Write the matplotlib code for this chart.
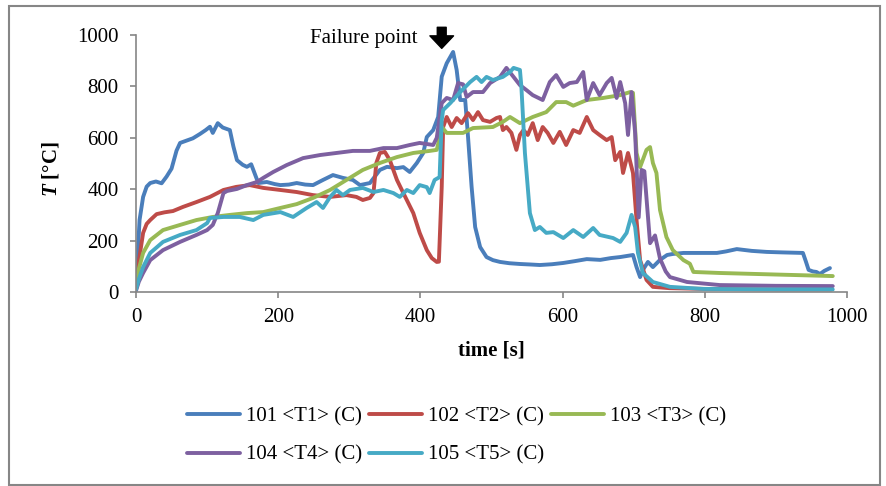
import matplotlib
matplotlib.use("Agg")
import matplotlib.pyplot as plt
from matplotlib.patches import Rectangle

plt.rcParams['font.family'] = ['Liberation Serif', 'DejaVu Serif']
plt.rcParams['mathtext.fontset'] = 'custom'
plt.rcParams['mathtext.it'] = 'Liberation Serif:italic:bold'
plt.rcParams['mathtext.rm'] = 'Liberation Serif:bold'

# thermocouple readings, time [s] / temperature [C]
t1 = [0, 5, 10, 15, 20, 28, 36, 43, 50, 57, 62, 70, 80, 90, 98, 104, 108, 115, 122, 132,
      137, 142, 150, 156, 162, 172, 184, 195, 203, 215, 226, 238, 249, 263, 277, 291, 305,
      315, 329, 343, 353, 367, 376, 385, 395, 404, 409, 418, 425, 430, 437, 446, 451, 456,
      463, 467, 472, 477, 484, 493, 502, 512, 525, 540, 555, 568, 585, 601, 617, 634, 653,
      668, 681, 699, 704, 709, 713, 720, 727, 737, 747, 755, 770, 793, 817, 830, 845, 866,
      887, 910, 938, 942, 946, 952, 957, 962, 968, 976]
T1 = [20, 280, 370, 410, 424, 430, 423, 449, 480, 550, 580, 588, 598, 615, 630, 643, 619, 657,
      640, 630, 566, 513, 495, 487, 497, 424, 428, 420, 416, 418, 424, 418, 416, 436, 455, 444,
      436, 416, 424, 475, 487, 482, 486, 467, 502, 541, 603, 630, 681, 838, 890, 934, 864, 747,
      747, 603, 410, 253, 175, 136, 124, 117, 112, 109, 107, 105, 108, 113, 120, 128, 125,
      132, 136, 144, 97, 58, 86, 117, 97, 125, 144, 148, 152, 152, 152, 158, 167, 160,
      156, 154, 152, 120, 86, 80, 78, 70, 82, 93]

t2 = [0, 4, 10, 15, 20, 29, 40, 52, 66, 85, 104, 123, 141, 160, 179, 203, 226, 249, 273, 296,
      310, 319, 329, 334, 338, 343, 350, 357, 367, 376, 390, 399, 409, 416, 423, 426, 430,
      432, 437, 444, 451, 458, 467, 474, 481, 488, 498, 507, 512, 516, 521, 528, 535, 540,
      545, 551, 558, 565, 572, 579, 587, 596, 605, 615, 624, 634, 643, 652, 662, 669, 674,
      681, 685, 692, 699, 704, 709, 718, 727, 750, 800, 900, 978]
T2 = [20, 120, 230, 265, 280, 303, 310, 315, 331, 350, 370, 397, 409, 416, 405, 397, 389, 377,
      370, 377, 370, 358, 366, 385, 502, 541, 545, 513, 436, 385, 307, 230, 163, 132, 117, 118,
      409, 642, 681, 642, 677, 657, 696, 669, 700, 669, 662, 677, 681, 630, 642, 619, 553,
      611, 630, 611, 657, 591, 642, 619, 580, 623, 572, 630, 619, 681, 630, 611, 591, 603,
      513, 545, 463, 541, 463, 280, 124, 47, 20, 15, 12, 10, 10]

t3 = [0, 4, 10, 20, 38, 62, 85, 108, 132, 156, 179, 203, 226, 249, 273, 296, 319, 343, 367,
      390, 413, 423, 427, 430, 437, 460, 474, 502, 516, 526, 540, 558, 577, 591, 605, 615,
      634, 657, 681, 695, 699, 704, 709, 718, 723, 727, 732, 737, 746, 755, 770, 779, 784,
      821, 900, 980]
T3 = [20, 90, 152, 202, 241, 261, 280, 292, 300, 307, 311, 327, 342, 366, 397, 436, 475, 502,
      525, 541, 549, 553, 600, 642, 619, 619, 638, 642, 662, 681, 657, 681, 700, 739, 739,
      725, 747, 755, 766, 778, 775, 541, 486, 553, 564, 502, 463, 319, 214, 163, 124, 110,
      78, 74, 68, 62]

t4 = [0, 4, 10, 20, 38, 62, 85, 100, 108, 115, 123, 128, 142, 156, 170, 179, 193, 212, 235,
      259, 282, 305, 329, 348, 367, 385, 399, 418, 423, 430, 437, 446, 453, 460, 465, 474,
      488, 498, 512, 521, 531, 540, 549, 558, 572, 582, 591, 601, 610, 620, 629, 634, 643,
      652, 662, 669, 676, 681, 688, 692, 697, 702, 707, 711, 715, 723, 730, 737, 745, 751,
      775, 821, 900, 980]
T4 = [5, 40, 74, 124, 163, 195, 222, 241, 261, 307, 385, 393, 401, 416, 428, 444, 467, 494,
      521, 533, 541, 549, 549, 560, 560, 572, 580, 572, 600, 735, 755, 747, 813, 808, 759,
      778, 778, 813, 837, 872, 837, 805, 786, 766, 747, 817, 844, 798, 813, 817, 856, 747,
      813, 766, 813, 833, 755, 817, 735, 611, 778, 619, 290, 475, 470, 190, 220, 130, 80, 58,
      39, 27, 24, 23]

t5 = [0, 4, 10, 20, 38, 62, 85, 100, 104, 123, 146, 165, 179, 203, 221, 240, 254, 263, 273,
      282, 291, 301, 319, 334, 348, 362, 371, 381, 390, 399, 409, 413, 420, 427, 430, 432,
      442, 456, 470, 479, 486, 493, 502, 516, 526, 531, 540, 542, 547, 554, 561, 568, 577,
      587, 601, 615, 629, 643, 652, 671, 681, 690, 697, 702, 706, 713, 727, 751, 798, 900,
      980]
T5 = [10, 50, 97, 152, 195, 222, 241, 268, 288, 292, 292, 280, 300, 311, 292, 327, 350, 327,
      370, 397, 377, 397, 405, 389, 397, 385, 370, 397, 385, 416, 408, 385, 436, 447, 669,
      708, 735, 778, 817, 837, 817, 837, 825, 837, 856, 872, 864, 800, 541, 307, 241, 253,
      230, 233, 210, 241, 214, 249, 222, 210, 195, 230, 300, 253, 152, 74, 39, 20, 12, 10, 10]

labels = ['101 <T1> (C)', '102 <T2> (C)', '103 <T3> (C)', '104 <T4> (C)', '105 <T5> (C)']
colors = ['#4A7EBB', '#BE4B48', '#98B954', '#7D60A0', '#46AAC5']
series = [(t1, T1), (t2, T2), (t3, T3), (t4, T4), (t5, T5)]

fig = plt.figure(figsize=(8.86, 4.86), dpi=100)
ax = fig.add_axes([136 / 886, 1 - 292 / 486, 711 / 886, 257 / 486])

lines = []
for (x, y), lab, c in zip(series, labels, colors):
    ln, = ax.plot(x, y, color=c, lw=2.8, label=lab, solid_joinstyle='round', solid_capstyle='round')
    lines.append(ln)

ax.set_xlim(0, 1000)
ax.set_ylim(0, 1000)
ax.set_xticks(range(0, 1001, 200))
ax.set_yticks(range(0, 1001, 200))
grey = '#868686'
for s in ['top', 'right']:
    ax.spines[s].set_visible(False)
for s in ['left', 'bottom']:
    ax.spines[s].set_color(grey)
    ax.spines[s].set_linewidth(1.2)
ax.tick_params(length=4.5, width=1.2, color=grey, labelsize=15, pad=7)
ax.tick_params(axis='y', pad=8)

ax.set_xlabel('time [s]', fontsize=15, fontweight='bold')
ax.xaxis.set_label_coords(0.5, -0.19)
ax.set_ylabel(r'$T$ [°C]', fontsize=15, fontweight='bold')
ax.yaxis.set_label_coords(-0.105, 0.48)

# failure marker above the plot
ax.text(321, 988, 'Failure point', fontsize=15, ha='center', va='center', clip_on=False)
ax.annotate('', xy=(430, 948), xytext=(430, 1030), annotation_clip=False,
            arrowprops=dict(arrowstyle='simple,head_width=0.85,head_length=0.45,tail_width=0.32',
                            color='black', mutation_scale=20, shrinkA=0, shrinkB=0))

# legend filled row by row: 101 102 103 / 104 105
order = [0, 3, 1, 4, 2]
ax.legend([lines[i] for i in order], [labels[i] for i in order],
          loc='upper left', bbox_to_anchor=(187 / 886, 1 - 407 / 486),
          bbox_transform=fig.transFigure, ncol=3, frameon=False, fontsize=15,
          handlelength=2.55, handletextpad=0.3, columnspacing=0.3, labelspacing=0.9,
          borderpad=0, borderaxespad=0)

fig.add_artist(Rectangle((9 / 886, 1 / 486), 871 / 886, 479 / 486, transform=fig.transFigure,
                         fill=False, edgecolor=grey, lw=1.5))

fig.savefig('out.png', dpi=100)
